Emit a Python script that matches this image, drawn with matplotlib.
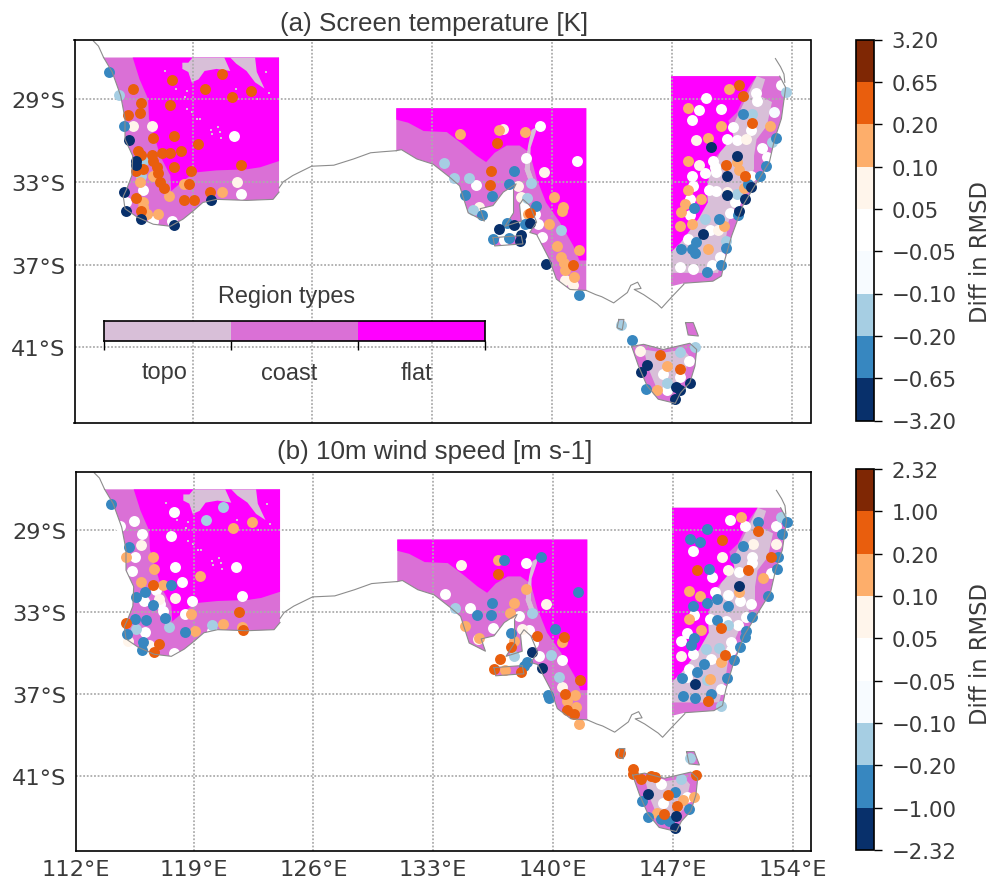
#!/usr/bin/env python3
"""RMSD difference maps over southern Australia, by region type."""
import matplotlib
matplotlib.use('Agg')
import matplotlib.pyplot as plt
import numpy as np
from matplotlib.cm import ScalarMappable
from matplotlib.colors import BoundaryNorm, ListedColormap

# region outlines (lon, lat)
wa_land = [(113.8, -27.0), (114.3, -27.7), (114.8, -28.85), (115.05, -29.95), (115.05, -30.95), (115.5, -31.75),
           (115.45, -32.7), (115.15, -33.35), (114.95, -33.7), (115.05, -34.3), (115.75, -34.7), (116.7, -35.05),
           (117.7, -35.15), (118.45, -34.8), (119.05, -34.4), (119.6, -34.0), (120.4, -33.85), (122.15, -33.9),
           (123.7, -33.85), (124.05, -33.5), (124.05, -27.0)]
wa_flat = [(115.5, -27.0), (124.05, -27.0), (124.05, -32.0), (122.95, -32.3), (122.15, -32.4), (120.4, -32.45),
           (119.15, -32.55), (118.45, -32.95), (117.75, -33.45), (117.7, -32.7), (117.1, -31.75), (116.7, -30.6),
           (116.45, -29.95), (116.4, -29.0), (115.9, -28.05)]
wa_topo1 = [(119.0, -27.0), (120.85, -27.0), (121.2, -27.65), (120.4, -27.55), (119.7, -27.65), (119.35, -28.05),
            (118.95, -28.2), (118.75, -27.7), (118.4, -27.55), (118.4, -27.25), (118.75, -27.25)]
wa_topo2 = [(121.2, -27.0), (122.65, -27.0), (122.75, -27.7), (123.2, -28.5), (122.65, -28.2), (122.15, -27.65),
            (121.55, -27.3)]
wa_specks = [(117.4, -27.65), (118.65, -28.6), (118.55, -28.9), (118.05, -28.5), (118.65, -29.5), (118.95, -29.65),
             (119.25, -29.95), (119.45, -29.95), (120.1, -30.5), (120.5, -30.35), (120.6, -30.6), (120.65, -30.9),
             (120.15, -30.7), (121.55, -28.5), (122.75, -29.0), (123.3, -27.7), (123.45, -28.7)]
sa_land = [(130.9, -29.45), (142.0, -29.45), (142.0, -38.25), (141.05, -38.2), (140.25, -37.7), (139.85, -36.75),
           (139.1, -35.55), (138.7, -35.45), (139.1, -34.95), (138.7, -34.15), (138.3, -33.85), (138.1, -34.1),
           (138.2, -34.9), (137.25, -35.15), (137.75, -34.5), (137.75, -33.35), (137.9, -33.1), (137.15, -33.5),
           (136.55, -34.15), (135.8, -34.3), (136.05, -34.9), (135.1, -34.5), (134.6, -33.2), (134.05, -32.8),
           (133.05, -32.15), (132.1, -31.9), (131.2, -31.45), (130.9, -31.5)]
sa_flat = [(130.9, -29.45), (142.0, -29.45), (142.0, -36.8), (141.6, -36.8), (141.25, -36.1), (140.45, -34.95),
           (139.65, -34.0), (139.1, -32.85), (138.7, -31.6), (138.1, -31.25), (137.35, -31.25), (136.65, -31.6),
           (136.15, -32.05), (135.6, -31.75), (134.8, -31.2), (133.85, -30.6), (132.5, -30.55), (131.6, -30.15),
           (130.9, -30.0)]
sa_topo = [(139.1, -30.35), (138.8, -30.5), (138.6, -31.25), (138.4, -32.4), (138.75, -33.2), (139.05, -33.2),
           (138.7, -32.4), (138.75, -31.35), (139.05, -30.6)]
kangaroo = [(136.55, -35.7), (138.2, -35.6), (138.3, -36.0), (136.65, -36.1)]
ea_land = [(146.95, -27.9), (153.3, -27.9), (153.65, -28.45), (153.4, -29.95), (153.0, -30.95), (152.7, -32.05),
           (151.95, -33.05), (151.15, -34.15), (150.5, -35.6), (150.1, -36.75), (149.9, -37.55), (149.4, -37.8),
           (147.7, -37.9), (146.95, -38.05)]
ea_topo = [(151.95, -27.9), (152.45, -28.05), (152.15, -28.85), (152.85, -29.15), (152.55, -30.3), (151.95, -30.95),
           (151.8, -31.75), (151.8, -32.4), (151.35, -33.05), (150.8, -34.0), (150.3, -34.95), (150.1, -36.1),
           (149.7, -37.4), (146.95, -37.4), (146.95, -36.4), (149.0, -33.0)]
ea_flat = [(146.95, -27.9), (151.95, -27.9), (151.45, -28.5), (150.8, -29.65), (150.3, -30.05), (150.6, -30.8),
           (150.0, -31.4), (149.55, -31.8), (149.25, -32.4), (149.05, -33.3), (149.1, -34.0), (148.55, -34.8),
           (148.05, -35.35), (147.5, -35.95), (146.95, -36.4)]
tas_land = [(144.65, -40.95), (145.35, -40.85), (146.5, -41.1), (148.05, -40.8), (148.45, -41.1), (148.35, -41.9),
            (148.05, -42.7), (147.5, -43.2), (147.2, -43.7), (146.2, -43.5), (145.55, -42.85), (145.05, -41.9)]
tas_topo = [(145.35, -41.1), (146.5, -41.25), (147.7, -41.1), (148.0, -41.4), (147.7, -42.55), (146.9, -43.2),
            (146.15, -43.05), (145.65, -42.05)]
flinders = [(147.8, -39.8), (148.25, -39.8), (148.55, -40.45), (147.95, -40.4)]
king_is = [(143.9, -39.65), (144.2, -39.65), (144.1, -40.15), (143.8, -40.05)]

# coastline pieces not already on a region edge
coast_nw = [(113.2, -26.2), (113.5, -26.45), (113.8, -27.0)]
coast_bight = [(124.05, -33.3), (124.3, -33.0), (124.85, -32.7), (125.95, -32.25), (127.25, -32.2), (128.4, -31.9),
               (129.4, -31.6), (130.1, -31.55), (130.9, -31.5)]
coast_vic = [(142.0, -38.25), (142.55, -38.45), (142.9, -38.55), (143.6, -38.85), (144.4, -38.35), (144.6, -38.0),
             (145.0, -37.85), (145.2, -38.15), (144.8, -38.2), (145.35, -38.45), (146.15, -38.9), (146.4, -39.1),
             (146.95, -38.6), (147.7, -37.95)]
coast_qld = [(153.05, -27.05), (153.35, -27.45), (153.55, -27.8), (153.6, -28.2)]

# stations, panel a, by colour class
a_orange = [(117.8, -28.1), (115.5, -28.5), (119.7, -28.5), (120.7, -27.8), (121.3, -28.9), (122.4, -28.6),
            (116.0, -29.2), (117.7, -29.3), (115.9, -29.7), (115.2, -29.8), (116.7, -30.9), (117.9, -30.8),
            (119.3, -31.2), (118.3, -31.5), (117.7, -31.6), (117.2, -31.6), (115.8, -31.5), (116.0, -31.7),
            (116.6, -31.7), (116.7, -32.0), (116.9, -32.3), (117.0, -32.6), (117.1, -33.0), (117.3, -33.3),
            (117.9, -32.3), (118.9, -32.5), (121.8, -32.2), (118.8, -33.1), (120.0, -33.5), (118.5, -33.9),
            (119.1, -33.9), (115.7, -32.5), (116.1, -32.4), (115.7, -33.8), (116.0, -34.4),
            (136.8, -31.15), (136.45, -32.5), (136.4, -33.15), (141.25, -37.0), (138.7, -34.5),
            (150.95, -28.35), (151.15, -28.85), (151.7, -30.15), (150.15, -32.2), (151.25, -32.7), (147.5, -42.05),
            (146.3, -41.35)]
a_peach = [(118.5, -33.1), (117.6, -33.7), (116.7, -32.7), (120.7, -33.5), (116.1, -34.0), (116.35, -34.55),
           (117.0, -34.55), (115.9, -33.0), (116.1, -34.2),
           (134.6, -30.7), (136.9, -30.5), (138.4, -30.6), (140.1, -33.75), (140.65, -34.2), (140.6, -34.4),
           (139.85, -35.05), (140.3, -36.1), (141.6, -36.3), (140.5, -36.65), (140.7, -36.9), (140.75, -37.25),
           (141.3, -37.6), (138.6, -34.55),
           (150.35, -28.5), (147.95, -29.45), (149.85, -30.3), (149.1, -30.9), (152.75, -30.3), (147.95, -32.0),
           (150.9, -32.45), (147.95, -33.4), (148.7, -33.85), (147.75, -34.05), (147.55, -34.45), (147.45, -35.15),
           (148.15, -35.05), (149.1, -36.25), (150.05, -35.15), (150.8, -32.05), (151.2, -33.3), (146.15, -43.05),
           (146.7, -41.9)]
a_cream = [(115.5, -30.3), (116.6, -30.3), (121.6, -33.0),
           (137.15, -30.45), (139.55, -32.55), (138.0, -33.2), (138.2, -33.75), (135.75, -34.2), (140.75, -37.75),
           (141.25, -38.0),
           (148.4, -31.0), (151.35, -30.95), (148.6, -32.2), (149.7, -35.35), (150.2, -33.5), (145.15, -41.15)]
a_white = [(121.4, -30.8), (121.8, -33.6), (116.1, -33.4), (115.1, -34.0), (116.7, -34.9), (117.8, -34.9),
           (139.3, -30.3), (138.45, -31.85), (141.45, -32.0), (135.55, -33.15), (139.2, -35.05), (139.4, -35.65),
           (139.0, -34.55), (137.2, -35.8),
           (149.0, -28.95), (148.6, -29.55), (149.85, -29.5), (148.15, -30.0), (151.9, -28.7), (151.95, -29.1),
           (150.6, -30.35), (151.65, -30.5), (150.25, -30.95), (150.8, -31.0), (152.25, -31.35), (149.4, -32.0),
           (149.5, -32.3), (149.6, -32.55), (148.95, -32.6), (148.2, -32.7), (148.25, -33.2), (149.15, -33.4),
           (149.6, -33.45), (148.05, -33.85), (148.05, -34.6), (147.95, -35.75), (150.4, -34.5), (150.7, -34.0),
           (149.25, -35.35), (149.8, -36.65), (147.5, -37.1), (148.25, -37.2), (149.35, -37.0), (151.65, -32.7),
           (153.35, -28.35), (152.55, -31.8), (146.5, -42.3), (147.5, -42.45), (146.7, -43.05), (148.0, -41.65)]
a_ice = [(152.95, -29.65)]
a_sky = [(114.7, -28.8), (116.1, -32.0), (116.0, -32.7),
         (133.7, -32.1), (134.25, -32.8), (135.15, -32.8), (138.75, -33.05), (138.55, -33.8), (140.5, -35.35),
         (135.4, -34.35),
         (151.7, -29.75), (153.65, -28.65), (152.85, -31.1), (148.95, -34.8), (150.8, -33.6), (146.7, -42.7),
         (147.5, -41.2), (144.0, -39.9), (148.35, -41.0), (150.15, -35.85)]
a_blue = [(114.1, -27.7), (115.0, -30.3),
          (137.75, -32.5), (137.5, -33.1), (136.5, -33.7), (134.9, -33.65), (135.9, -34.6), (139.05, -34.15),
          (138.4, -35.05), (137.35, -35.0), (136.55, -35.75), (137.5, -35.7), (141.55, -38.45),
          (151.15, -29.75), (153.1, -30.9), (148.3, -34.25), (149.75, -34.8), (150.85, -34.6), (147.55, -36.25),
          (148.4, -35.9), (148.15, -36.25), (148.35, -36.45), (150.15, -36.2), (149.05, -37.35), (149.9, -37.0),
          (152.15, -32.7), (152.5, -32.25), (144.7, -40.65), (145.5, -43.0), (151.45, -33.1)]
a_navy = [(115.3, -31.0), (115.7, -32.0), (115.7, -32.2), (115.0, -33.5), (115.1, -34.4), (116.0, -34.8),
          (120.1, -33.9), (117.9, -35.1),
          (136.9, -35.3), (137.75, -35.1), (138.7, -35.0), (138.1, -35.85), (138.2, -35.55), (139.65, -36.95),
          (149.3, -31.3), (150.8, -31.75), (150.25, -32.7), (150.25, -33.65), (151.6, -33.25), (151.25, -33.85),
          (150.95, -34.4), (148.8, -35.5), (145.55, -41.85), (145.2, -42.2), (148.05, -42.7), (147.25, -42.9),
          (147.2, -43.5), (147.5, -43.05)]

# stations, panel b, by colour class
b_orange = [(121.65, -33.0), (115.05, -33.5), (116.65, -31.65), (117.0, -34.55), (116.7, -34.95), (121.9, -33.85),
            (136.8, -31.15), (140.65, -34.2), (141.6, -36.3), (139.05, -34.15), (137.55, -34.7), (136.9, -35.3),
            (136.55, -35.75), (138.1, -35.9), (140.7, -37.0), (140.8, -37.75), (141.25, -37.95),
            (149.9, -29.45), (148.4, -30.95), (151.4, -30.95), (152.0, -29.05), (152.75, -30.3), (150.05, -35.1),
            (149.05, -37.35), (143.9, -39.85), (144.65, -40.65), (144.65, -40.9), (145.15, -41.15), (145.75, -41.0),
            (145.95, -41.05), (148.35, -40.95), (146.7, -41.9), (147.25, -42.45), (146.5, -42.85), (149.8, -33.75)]
b_peach = [(122.4, -28.6), (121.3, -28.9), (115.05, -30.3), (116.65, -30.3), (116.7, -30.9), (119.35, -31.25),
           (115.9, -31.5), (117.2, -31.65), (118.85, -33.1), (120.7, -33.55), (119.1, -33.9), (121.85, -33.7),
           (136.8, -30.45), (138.4, -31.85), (137.7, -32.55), (137.5, -33.05), (134.85, -33.65), (135.7, -34.25),
           (140.55, -34.45), (137.7, -34.4), (140.8, -37.35), (141.3, -37.05), (141.35, -37.6), (141.5, -38.45),
           (137.2, -35.8),
           (151.0, -28.35), (152.25, -31.35), (147.95, -31.95), (148.6, -32.2), (147.95, -33.35), (148.65, -33.85),
           (150.85, -32.0), (149.8, -35.45), (149.15, -36.25), (147.6, -42.15), (148.25, -42.0), (146.1, -42.8)]
b_cream = [(115.9, -29.7), (117.9, -32.3), (115.15, -34.4), (116.4, -34.6), (117.0, -32.35),
           (134.6, -30.7), (139.6, -32.6), (138.2, -33.8), (140.5, -36.65), (135.6, -34.3),
           (151.7, -29.65), (149.85, -30.3), (150.25, -30.95), (147.5, -35.15), (153.0, -29.65)]
b_white = [(117.85, -28.1), (115.5, -28.55), (114.7, -28.8), (116.0, -29.2), (117.7, -29.3), (115.55, -30.3),
           (115.4, -31.0), (117.9, -30.8), (121.45, -30.8), (118.3, -31.5), (121.8, -32.2), (116.8, -31.9),
           (116.1, -32.45), (117.05, -32.6), (117.2, -32.95), (118.9, -32.45), (118.5, -33.1), (116.15, -33.95),
           (117.85, -35.0), (120.1, -33.9),
           (138.4, -30.6), (133.7, -32.1), (135.15, -32.8), (136.5, -33.75), (138.6, -33.85), (138.0, -33.2),
           (138.8, -34.5), (139.2, -35.15), (140.5, -35.35),
           (150.35, -28.5), (151.2, -28.8), (153.05, -28.8), (148.15, -30.0), (151.65, -30.3), (151.65, -30.6),
           (150.85, -31.05), (149.3, -31.3), (149.45, -32.0), (150.2, -32.15), (150.95, -32.45), (151.55, -32.6),
           (148.25, -33.15), (149.15, -33.35), (150.1, -33.45), (150.8, -33.6), (147.8, -34.0), (147.5, -34.4),
           (148.15, -35.05), (149.25, -35.3), (150.4, -34.45), (150.4, -34.85), (147.95, -35.75), (147.85, -36.15),
           (149.8, -36.75), (151.3, -33.25), (152.75, -31.1), (146.4, -42.3), (147.8, -42.0), (146.3, -41.4)]
b_sky = [(120.7, -27.85), (119.75, -28.5), (117.55, -33.7), (120.05, -33.6), (115.65, -33.8),
         (134.25, -32.8), (138.75, -33.05), (139.9, -35.1), (140.35, -36.15), (137.7, -35.15),
         (153.3, -28.35), (148.95, -34.8), (149.7, -34.75), (149.0, -36.3), (150.25, -33.6), (147.5, -41.15),
         (148.0, -40.1), (149.8, -37.55)]
b_blue = [(114.2, -27.7), (115.25, -29.8), (117.7, -31.65), (116.15, -32.0), (115.65, -32.25), (116.65, -32.65),
          (117.35, -33.3), (118.5, -33.95), (116.2, -33.4), (115.6, -33.35), (115.1, -34.05), (116.05, -34.45),
          (116.0, -34.85),
          (137.15, -30.45), (139.3, -30.3), (141.45, -32.0), (136.45, -32.55), (135.55, -33.15), (136.4, -33.15),
          (137.55, -34.0), (140.1, -33.8), (138.5, -35.45), (138.3, -35.6), (139.7, -37.05), (139.75, -37.2),
          (149.0, -28.95), (148.0, -29.4), (148.6, -29.55), (152.0, -28.6), (153.65, -28.6), (153.4, -29.2),
          (151.1, -29.75), (150.65, -30.35), (149.1, -30.9), (153.15, -30.3), (153.1, -30.9), (152.55, -32.2),
          (148.2, -32.7), (149.0, -32.55), (149.55, -32.35), (150.25, -32.7), (149.6, -33.4), (148.25, -34.25),
          (148.05, -34.6), (148.8, -35.5), (148.4, -35.9), (147.55, -36.2), (150.15, -36.2), (147.6, -37.1),
          (148.3, -37.2), (149.25, -37.0), (151.3, -33.9), (151.2, -34.2), (150.9, -34.7), (150.55, -35.35),
          (151.65, -33.25), (147.1, -41.75), (145.2, -42.2), (145.55, -43.0), (147.95, -42.6), (146.3, -43.1),
          (146.8, -43.2)]
b_navy = [(138.75, -34.95), (139.35, -35.7), (150.85, -31.7), (148.3, -36.5), (145.55, -41.85), (147.2, -42.95),
          (147.15, -43.55)]

# colour bar
a_bounds = [-3.20, -0.65, -0.20, -0.10, -0.05, 0.05, 0.10, 0.20, 0.65, 3.20]
b_bounds = [-2.32, -1.00, -0.20, -0.10, -0.05, 0.05, 0.10, 0.20, 1.00, 2.32]
diff_colors = ['#08306b', '#3787c0', '#a6cee3', '#f7fbff', '#ffffff', '#fff5eb', '#fdae6b', '#e95e0d', '#7f2704']
region_colors = ['#d8bfd8', '#da70d6', '#ff00ff']
region_names = ['topo', 'coast', 'flat']
lon_ticks = [112, 119, 126, 133, 140, 147, 154]
lat_ticks = [-29, -33, -37, -41]

W, H = 993, 887
TEXT_GREY = '#3a3a3a'


def px_axes(fig, left, top, right, bottom):
    """axes placed by its pixel box in the figure"""
    return fig.add_axes([left / W, 1 - bottom / H, (right - left) / W, (bottom - top) / H])


def fill_regions(ax):
    for poly in [wa_land, sa_land, kangaroo, ea_land, tas_land, flinders, king_is]:
        p = np.array(poly)
        ax.fill(p[:, 0], p[:, 1], color=region_colors[1], lw=0, zorder=1)
    for poly in [wa_topo1, wa_topo2, sa_topo, ea_topo, tas_topo]:
        p = np.array(poly)
        ax.fill(p[:, 0], p[:, 1], color=region_colors[0], lw=0, zorder=1.1)
    for poly in [wa_flat, sa_flat, ea_flat]:
        p = np.array(poly)
        ax.fill(p[:, 0], p[:, 1], color=region_colors[2], lw=0, zorder=1.2)
    # topo patches sit on top of the flat area in the WA north
    for poly in [wa_topo1, wa_topo2, sa_topo]:
        p = np.array(poly)
        ax.fill(p[:, 0], p[:, 1], color=region_colors[0], lw=0, zorder=1.3)
    p = np.array(wa_specks)
    ax.scatter(p[:, 0], p[:, 1], s=3, marker='s', color=region_colors[0], linewidths=0, zorder=1.4)


def draw_coast(ax):
    for line in [coast_nw, wa_land[:20], coast_bight, sa_land[2:], coast_vic, ea_land[1:13], coast_qld]:
        p = np.array(line)
        ax.plot(p[:, 0], p[:, 1], color='#8c8c8c', lw=0.8, zorder=5)
    for poly in [tas_land, flinders, king_is, kangaroo]:
        p = np.array(poly + poly[:1])
        ax.plot(p[:, 0], p[:, 1], color='#8c8c8c', lw=0.8, zorder=5)


def draw_map(ax, groups, title, title_pad, show_x):
    fill_regions(ax)
    for pts, color in groups:
        p = np.array(pts)
        ax.scatter(p[:, 0], p[:, 1], s=62, color=color, linewidths=0, zorder=4)
    draw_coast(ax)
    ax.set_xlim(112.1, 155.1)
    ax.set_ylim(-44.65, -26.13)
    ax.set_xticks(lon_ticks[1:])
    ax.set_yticks(lat_ticks)
    ax.set_yticklabels([f'{-v}°S' for v in lat_ticks], fontsize=16.2, color=TEXT_GREY)
    if show_x:
        ax.set_xticklabels([f'{v}°E' for v in lon_ticks[1:]], fontsize=16.2, color=TEXT_GREY)
        ax.text(0.0, -0.048, '112°E', transform=ax.transAxes, ha='center', va='center', fontsize=16.2,
                color=TEXT_GREY)
    else:
        ax.set_xticklabels([])
    ax.tick_params(axis='y', length=0, pad=6.8)
    ax.tick_params(axis='x', length=0, pad=6)
    ax.grid(True, color='#adadad', linestyle=(0, (1, 1)), linewidth=1.3, zorder=2)
    ax.set_axisbelow(False)
    for s in ax.spines.values():
        s.set_linewidth(1.2)
        s.set_zorder(10)
    ax.set_title(title, fontsize=18.7, pad=title_pad, x=0.488, color=TEXT_GREY, family='Liberation Sans')


def draw_cbar(fig, cax, bounds, label_y):
    norm = BoundaryNorm(bounds, len(diff_colors))
    sm = ScalarMappable(norm=norm, cmap=ListedColormap(diff_colors))
    cb = fig.colorbar(sm, cax=cax, spacing='uniform', ticks=bounds)
    cb.ax.set_yticklabels([f'{b:.2f}'.replace('-', '\u2212') for b in bounds], fontsize=15.3, color=TEXT_GREY)
    cb.ax.tick_params(length=6, width=1, pad=6.5)
    cb.outline.set_linewidth(1.2)
    cb.minorticks_off()
    cb.set_label('Diff in RMSD', fontsize=16.3, labelpad=9, color=TEXT_GREY, y=label_y)


def main():
    fig = plt.figure(figsize=(W / 100, H / 100), dpi=100)

    ax_a = px_axes(fig, 74.5, 40.5, 810.5, 424)
    ax_b = px_axes(fig, 75.5, 472.5, 811.5, 852)

    a_groups = [(a_white, diff_colors[4]), (a_ice, diff_colors[3]), (a_cream, diff_colors[5]), (a_sky, diff_colors[2]),
                (a_peach, diff_colors[6]), (a_blue, diff_colors[1]), (a_orange, diff_colors[7]), (a_navy, diff_colors[0])]
    b_groups = [(b_white, diff_colors[4]), (b_cream, diff_colors[5]), (b_sky, diff_colors[2]), (b_peach, diff_colors[6]),
                (b_blue, diff_colors[1]), (b_orange, diff_colors[7]), (b_navy, diff_colors[0])]
    draw_map(ax_a, a_groups, '(a) Screen temperature [K]', 6.5, False)
    draw_map(ax_b, b_groups, '(b) 10m wind speed [m s-1]', 10, True)

    draw_cbar(fig, px_axes(fig, 856, 40.5, 874, 421.5), a_bounds, 0.445)
    draw_cbar(fig, px_axes(fig, 856, 470, 874, 851), b_bounds, 0.517)

    # region type key inside panel a
    key = px_axes(fig, 104, 322, 485, 342)
    key.pcolormesh([0, 1, 2, 3], [0, 1], [[0, 1, 2]], cmap=ListedColormap(region_colors), vmin=0, vmax=2)
    key.set_xticks([0, 1, 2, 3])
    key.set_xticklabels([])
    key.set_yticks([])
    key.tick_params(length=6.5, width=1)
    for s in key.spines.values():
        s.set_linewidth(1.2)
    for i, name in zip([0.48, 1.457, 2.46], region_names):
        key.text(i, -1.55, name, ha='center', va='center', fontsize=16.9, color=TEXT_GREY,
                 family='Liberation Sans')
    key.text(1.44, 2.3, 'Region types', ha='center', va='center', fontsize=16.9, color=TEXT_GREY,
             family='Liberation Sans')

    fig.savefig('out.png', dpi=100)


if __name__ == '__main__':
    main()
